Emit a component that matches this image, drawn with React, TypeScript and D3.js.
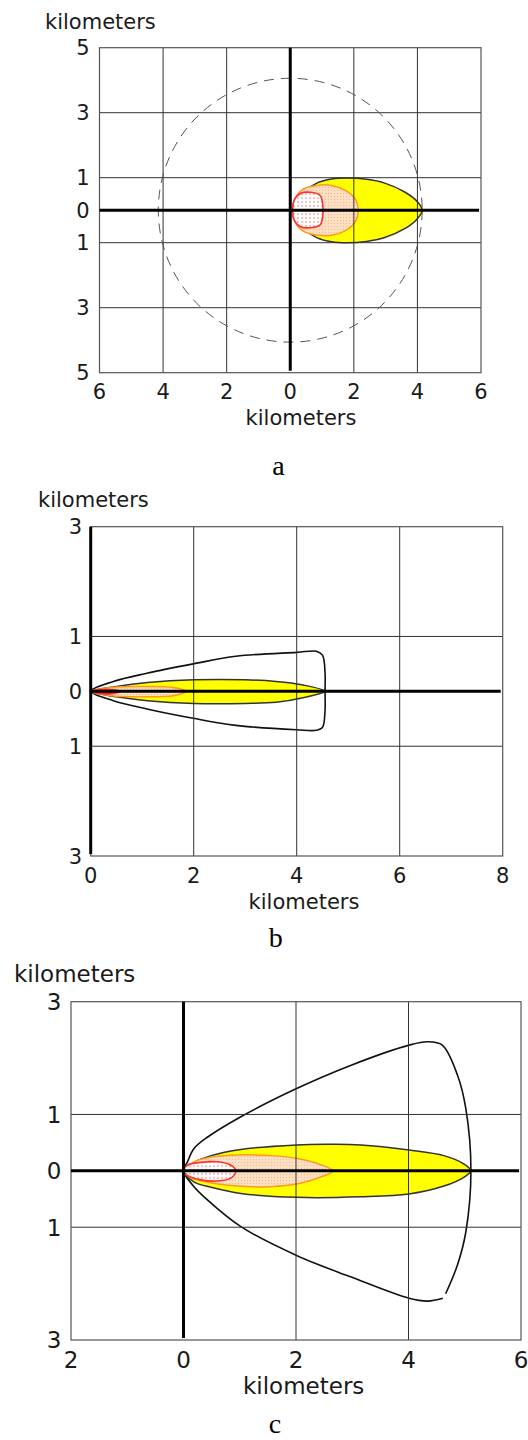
import React from 'react';
import * as d3 from 'd3';

type Pt = [number, number];

// ---------- Panel a ----------
const A_X_TICKS = [-6, -4, -2, 0, 2, 4, 6];
const A_X_LABELS = ['6', '4', '2', '0', '2', '4', '6'];
const A_Y_TICKS = [5, 3, 1, 0, -1, -3, -5];
const A_Y_LABELS = ['5', '3', '1', '0', '1', '3', '5'];
const A_GRID_X = [-4, -2, 2, 4];
const A_GRID_Y = [3, 1, -1, -3];
const A_CIRCLE_RADIUS = 4.15;
const A_YELLOW: Pt[] = [
  [0.06, 0], [0.12, 0.26], [0.33, 0.5], [0.85, 0.84], [1.3, 0.96], [1.8, 0.99], [2.4, 0.95],
  [2.95, 0.84], [3.6, 0.56], [4.0, 0.26], [4.15, 0], [4.0, -0.26], [3.6, -0.57], [2.95, -0.85],
  [2.4, -0.96], [1.8, -1.0], [1.3, -0.97], [0.85, -0.85], [0.33, -0.5], [0.12, -0.26],
];
const A_ORANGE: Pt[] = [
  [0.08, 0], [0.15, 0.36], [0.43, 0.66], [0.9, 0.77], [1.3, 0.76], [1.75, 0.6], [2.05, 0.33],
  [2.14, 0], [2.05, -0.35], [1.75, -0.62], [1.3, -0.77], [0.9, -0.77], [0.43, -0.66], [0.15, -0.36],
];
const A_RED: Pt[] = [
  [0.08, 0], [0.12, 0.3], [0.33, 0.52], [0.64, 0.55], [0.93, 0.46], [1.02, 0.2], [1.02, -0.2],
  [0.93, -0.46], [0.64, -0.54], [0.3, -0.5], [0.12, -0.3],
];

// ---------- Panel b ----------
const B_X_TICKS = [0, 2, 4, 6, 8];
const B_X_LABELS = ['0', '2', '4', '6', '8'];
const B_Y_TICKS = [3, 1, 0, -1, -3];
const B_Y_LABELS = ['3', '1', '0', '1', '3'];
const B_GRID_X = [2, 4, 6];
const B_GRID_Y = [1, -1];
const B_OUTER: Pt[] = [
  [0, 0], [0.44, 0.18], [1.09, 0.33], [1.99, 0.5], [2.82, 0.64], [4.0, 0.71], [4.38, 0.73],
  [4.5, 0.66], [4.55, 0.35], [4.55, 0], [4.55, -0.35], [4.5, -0.66], [4.38, -0.71], [4.0, -0.7],
  [2.82, -0.62], [1.99, -0.49], [1.09, -0.32], [0.44, -0.17],
];
const B_YELLOW: Pt[] = [
  [0, 0], [0.5, 0.09], [1.1, 0.16], [2.0, 0.21], [3.0, 0.21], [3.6, 0.18], [4.1, 0.12], [4.55, 0],
  [4.1, -0.12], [3.6, -0.2], [3.0, -0.22], [2.0, -0.22], [1.1, -0.17], [0.5, -0.1],
];
const B_ORANGE: Pt[] = [
  [0, 0], [0.4, 0.07], [1.0, 0.09], [1.6, 0.07], [1.86, 0], [1.6, -0.08], [1.0, -0.1], [0.4, -0.08],
];
const B_RED: Pt[] = [[0, 0], [0.2, 0.035], [0.45, 0.03], [0.57, 0], [0.45, -0.04], [0.2, -0.045]];

// ---------- Panel c ----------
const C_X_TICKS = [-2, 0, 2, 4, 6];
const C_X_LABELS = ['2', '0', '2', '4', '6'];
const C_Y_TICKS = [3, 1, 0, -1, -3];
const C_Y_LABELS = ['3', '1', '0', '1', '3'];
const C_GRID_X = [2, 4];
const C_GRID_Y = [1, -1];
const C_OUTER: Pt[] = [
  [4.66, -2.18], [4.87, -1.67], [5.02, -1.08], [5.11, 0], [5.02, 1.1], [4.87, 1.7], [4.6, 2.23],
  [4.34, 2.29], [4.01, 2.23], [2.97, 1.87], [2.01, 1.46], [1.02, 0.96], [0.43, 0.6], [0.19, 0.4],
  [0.07, 0.16], [0, 0], [0.16, -0.25], [0.43, -0.52], [1.02, -0.99], [2.01, -1.5], [2.97, -1.88],
  [4.01, -2.26], [4.34, -2.31], [4.61, -2.26],
];
const C_YELLOW: Pt[] = [
  [0, 0], [0.19, 0.15], [0.49, 0.27], [1.02, 0.38], [2.01, 0.46], [2.56, 0.47], [3.15, 0.46],
  [4.01, 0.37], [4.63, 0.27], [4.99, 0.12], [5.11, 0], [4.99, -0.11], [4.63, -0.27], [4.01, -0.41],
  [3.15, -0.46], [2.01, -0.47], [1.02, -0.4], [0.49, -0.29], [0.19, -0.2],
];
const C_ORANGE: Pt[] = [
  [0, 0], [0.13, 0.13], [0.37, 0.22], [0.96, 0.28], [1.55, 0.27], [2.03, 0.22], [2.38, 0.13],
  [2.66, 0], [2.38, -0.13], [2.03, -0.23], [1.55, -0.28], [0.96, -0.27], [0.37, -0.19], [0.13, -0.12],
];
const C_RED: Pt[] = [
  [0, 0], [0.07, 0.1], [0.31, 0.15], [0.6, 0.16], [0.84, 0.1], [0.93, 0], [0.84, -0.13],
  [0.6, -0.18], [0.31, -0.16], [0.07, -0.08],
];

const TEXT = '#1a1a1a';
const GRID = '#333';
const SANS = 'DejaVu Sans, Verdana, sans-serif';
const SERIF = 'Liberation Serif, Times New Roman, serif';

interface Cfg {
  xDomain: [number, number];
  xRange: [number, number];
  yDomain: [number, number];
  yRange: [number, number];
  xTicks: number[];
  xLabels: string[];
  yTicks: number[];
  yLabels: string[];
  gridX: number[];
  gridY: number[];
  fs: number;
  yTitle: [number, number];
  yTickRight: number;
  xTickBase: number;
  xTitle: [number, number];
  caption: string;
  capPos: [number, number];
  yellow: Pt[];
  orange: Pt[];
  red: Pt[];
  outer?: Pt[];
  outerClosed?: boolean;
  circle?: number;
  redFill: string;
}

function Panel({ c }: { c: Cfg }) {
  const x = d3.scaleLinear().domain(c.xDomain).range(c.xRange);
  const y = d3.scaleLinear().domain(c.yDomain).range(c.yRange);
  const closed = d3
    .line<Pt>()
    .x((d) => x(d[0]))
    .y((d) => y(d[1]))
    .curve(d3.curveCatmullRomClosed.alpha(0.5));
  const open = d3
    .line<Pt>()
    .x((d) => x(d[0]))
    .y((d) => y(d[1]))
    .curve(d3.curveCatmullRom.alpha(0.5));
  const [x0, x1] = c.xRange;
  const [yb, yt] = c.yRange;
  return (
    <g>
      {c.outer && (
        <path
          d={(c.outerClosed ? closed : open)(c.outer) || ''}
          fill="none"
          stroke="#111"
          strokeWidth={1.6}
        />
      )}
      <path d={closed(c.yellow) || ''} fill="#ffff00" stroke="#333" strokeWidth={1.5} />
      <path d={closed(c.orange) || ''} fill="url(#peach)" stroke="#ff9a1a" strokeWidth={1.5} />
      <path d={closed(c.red) || ''} fill={c.redFill} stroke="#ff3030" strokeWidth={1.6} />
      {c.gridX.map((v) => (
        <line key={'gx' + v} x1={x(v)} x2={x(v)} y1={yt} y2={yb} stroke={GRID} strokeWidth={1} />
      ))}
      {c.gridY.map((v) => (
        <line key={'gy' + v} x1={x0} x2={x1} y1={y(v)} y2={y(v)} stroke={GRID} strokeWidth={1} />
      ))}
      <rect x={x0} y={yt} width={x1 - x0} height={yb - yt} fill="none" stroke="#555" strokeWidth={1.2} />
      {c.circle !== undefined && (
        <circle
          cx={x(0)}
          cy={y(0)}
          r={x(c.circle) - x(0)}
          fill="none"
          stroke="#555"
          strokeWidth={1}
          strokeDasharray="10 7"
        />
      )}
      <line x1={x0} x2={x1 - 2} y1={y(0)} y2={y(0)} stroke="#000" strokeWidth={3} />
      <line x1={x(0)} x2={x(0)} y1={yt} y2={yb - 2} stroke="#000" strokeWidth={3} />
      <text x={c.yTitle[0]} y={c.yTitle[1]} fontFamily={SANS} fontSize={c.fs} fill={TEXT}>
        kilometers
      </text>
      {c.yTicks.map((v, i) => (
        <text
          key={'yl' + i}
          x={c.yTickRight}
          y={y(v) + 0.3645 * c.fs}
          textAnchor="end"
          fontFamily={SANS}
          fontSize={c.fs}
          fill={TEXT}
        >
          {c.yLabels[i]}
        </text>
      ))}
      {c.xTicks.map((v, i) => (
        <text
          key={'xl' + i}
          x={x(v)}
          y={c.xTickBase}
          textAnchor="middle"
          fontFamily={SANS}
          fontSize={c.fs}
          fill={TEXT}
        >
          {c.xLabels[i]}
        </text>
      ))}
      <text x={c.xTitle[0]} y={c.xTitle[1]} textAnchor="middle" fontFamily={SANS} fontSize={c.fs} fill={TEXT}>
        kilometers
      </text>
      <text x={c.capPos[0]} y={c.capPos[1]} textAnchor="middle" fontFamily={SERIF} fontSize={28} fill="#000">
        {c.caption}
      </text>
    </g>
  );
}

const PANEL_A: Cfg = {
  xDomain: [-6, 6], xRange: [99.5, 481], yDomain: [-5, 5], yRange: [372.7, 47.7],
  xTicks: A_X_TICKS, xLabels: A_X_LABELS, yTicks: A_Y_TICKS, yLabels: A_Y_LABELS,
  gridX: A_GRID_X, gridY: A_GRID_Y, fs: 21, yTitle: [45, 28.5], yTickRight: 89.5,
  xTickBase: 398.5, xTitle: [301, 425], caption: 'a', capPos: [278.5, 475],
  yellow: A_YELLOW, orange: A_ORANGE, red: A_RED, circle: A_CIRCLE_RADIUS, redFill: 'url(#reddots)',
};
const PANEL_B: Cfg = {
  xDomain: [0, 8], xRange: [90.7, 502.7], yDomain: [-3, 3], yRange: [856, 526.7],
  xTicks: B_X_TICKS, xLabels: B_X_LABELS, yTicks: B_Y_TICKS, yLabels: B_Y_LABELS,
  gridX: B_GRID_X, gridY: B_GRID_Y, fs: 21, yTitle: [38, 506.7], yTickRight: 82,
  xTickBase: 882.7, xTitle: [304, 909.3], caption: 'b', capPos: [275.7, 946.7],
  yellow: B_YELLOW, orange: B_ORANGE, red: B_RED, outer: B_OUTER, outerClosed: true, redFill: '#d40000',
};
const PANEL_C: Cfg = {
  xDomain: [-2, 6], xRange: [71, 521], yDomain: [-3, 3], yRange: [1340, 1001.7],
  xTicks: C_X_TICKS, xLabels: C_X_LABELS, yTicks: C_Y_TICKS, yLabels: C_Y_LABELS,
  gridX: C_GRID_X, gridY: C_GRID_Y, fs: 23, yTitle: [14, 981.7], yTickRight: 61.5,
  xTickBase: 1368.3, xTitle: [303.7, 1394], caption: 'c', capPos: [275, 1433],
  yellow: C_YELLOW, orange: C_ORANGE, red: C_RED, outer: C_OUTER, outerClosed: false, redFill: 'url(#reddots)',
};

export default function App() {
  return (
    <svg
      width={528}
      height={1440}
      viewBox="0 0 528 1440"
      style={{ position: 'absolute', left: 0, top: 0, background: '#fff' }}
    >
      <defs>
        <pattern id="peach" width={3} height={3} patternUnits="userSpaceOnUse">
          <rect width={3} height={3} fill="#fde0c4" />
          <circle cx={1.5} cy={1.5} r={0.55} fill="#f6b27c" />
        </pattern>
        <pattern id="reddots" width={4} height={4} patternUnits="userSpaceOnUse">
          <rect width={4} height={4} fill="#fff" />
          <circle cx={2} cy={2} r={0.8} fill="#ff6a6a" />
        </pattern>
      </defs>
      <rect width={528} height={1440} fill="#fff" />
      <Panel c={PANEL_A} />
      <Panel c={PANEL_B} />
      <Panel c={PANEL_C} />
    </svg>
  );
}
